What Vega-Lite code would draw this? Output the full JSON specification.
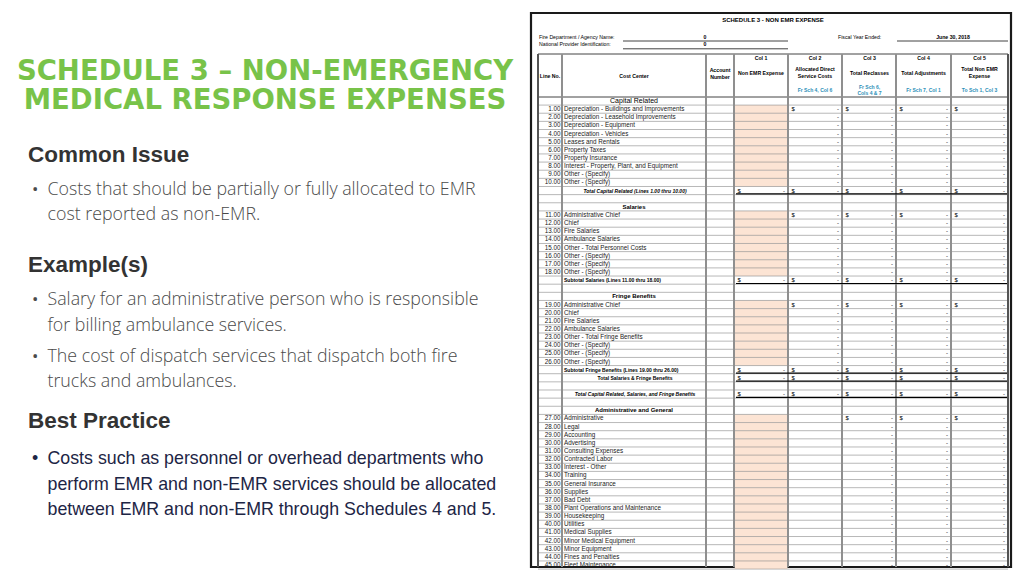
{
"$schema":"https://vega.github.io/schema/vega-lite/v6.json",
"width":1024,"height":576,"padding":0,
"autosize":{"type":"none"},
"background":"white",
"config":{"view":{"stroke":null},"axis":{"disable":true},"text":{"font":"Liberation Sans","color":"#000000"}},
"datasets":{"rows":[
{"r":0,"kind":"section","name":"Capital Related","sec":"cap"},
{"r":1,"kind":"item","line":"1.00","name":"Depreciation - Buildings and Improvements","sec":"cap","first":true},
{"r":2,"kind":"item","line":"2.00","name":"Depreciation - Leasehold Improvements","sec":"cap"},
{"r":3,"kind":"item","line":"3.00","name":"Depreciation - Equipment","sec":"cap"},
{"r":4,"kind":"item","line":"4.00","name":"Depreciation  - Vehicles","sec":"cap"},
{"r":5,"kind":"item","line":"5.00","name":"Leases and Rentals","sec":"cap"},
{"r":6,"kind":"item","line":"6.00","name":"Property Taxes","sec":"cap"},
{"r":7,"kind":"item","line":"7.00","name":"Property Insurance","sec":"cap"},
{"r":8,"kind":"item","line":"8.00","name":"Interest - Property, Plant, and Equipment","sec":"cap"},
{"r":9,"kind":"item","line":"9.00","name":"Other - (Specify)","sec":"cap"},
{"r":10,"kind":"item","line":"10.00","name":"Other - (Specify)","sec":"cap"},
{"r":11,"kind":"total","name":"Total Capital Related (Lines 1.00 thru 10.00)","sec":"cap"},
{"r":12,"kind":"blank"},
{"r":13,"kind":"section","name":"Salaries","sec":"sal"},
{"r":14,"kind":"item","line":"11.00","name":"Administrative Chief","sec":"sal","first":true},
{"r":15,"kind":"item","line":"12.00","name":"Chief","sec":"sal"},
{"r":16,"kind":"item","line":"13.00","name":"Fire Salaries","sec":"sal"},
{"r":17,"kind":"item","line":"14.00","name":"Ambulance Salaries","sec":"sal"},
{"r":18,"kind":"item","line":"15.00","name":"Other - Total Personnel Costs","sec":"sal"},
{"r":19,"kind":"item","line":"16.00","name":"Other - (Specify)","sec":"sal"},
{"r":20,"kind":"item","line":"17.00","name":"Other - (Specify)","sec":"sal"},
{"r":21,"kind":"item","line":"18.00","name":"Other - (Specify)","sec":"sal"},
{"r":22,"kind":"total","name":"Subtotal Salaries (Lines 11.00 thru 18.00)","sec":"sal"},
{"r":23,"kind":"blank"},
{"r":24,"kind":"section","name":"Fringe Benefits","sec":"fri"},
{"r":25,"kind":"item","line":"19.00","name":"Administrative Chief","sec":"fri","first":true},
{"r":26,"kind":"item","line":"20.00","name":"Chief","sec":"fri"},
{"r":27,"kind":"item","line":"21.00","name":"Fire Salaries","sec":"fri"},
{"r":28,"kind":"item","line":"22.00","name":"Ambulance Salaries","sec":"fri"},
{"r":29,"kind":"item","line":"23.00","name":"Other - Total Fringe Benefits","sec":"fri"},
{"r":30,"kind":"item","line":"24.00","name":"Other - (Specify)","sec":"fri"},
{"r":31,"kind":"item","line":"25.00","name":"Other - (Specify)","sec":"fri"},
{"r":32,"kind":"item","line":"26.00","name":"Other - (Specify)","sec":"fri"},
{"r":33,"kind":"total","name":"Subtotal Fringe Benefits (Lines 19.00 thru 26.00)","sec":"fri"},
{"r":34,"kind":"total","name":"Total Salaries & Fringe Benefits","sec":"fri"},
{"r":35,"kind":"blank"},
{"r":36,"kind":"total","name":"Total Capital Related, Salaries, and Fringe Benefits","sec":"all"},
{"r":37,"kind":"blank"},
{"r":38,"kind":"section","name":"Administrative and General","sec":"ag"},
{"r":39,"kind":"item","line":"27.00","name":"Administrative","sec":"ag","first":true},
{"r":40,"kind":"item","line":"28.00","name":"Legal","sec":"ag"},
{"r":41,"kind":"item","line":"29.00","name":"Accounting","sec":"ag"},
{"r":42,"kind":"item","line":"30.00","name":"Advertising","sec":"ag"},
{"r":43,"kind":"item","line":"31.00","name":"Consulting Expenses","sec":"ag"},
{"r":44,"kind":"item","line":"32.00","name":"Contracted Labor","sec":"ag"},
{"r":45,"kind":"item","line":"33.00","name":"Interest - Other","sec":"ag"},
{"r":46,"kind":"item","line":"34.00","name":"Training","sec":"ag"},
{"r":47,"kind":"item","line":"35.00","name":"General Insurance","sec":"ag"},
{"r":48,"kind":"item","line":"36.00","name":"Supplies","sec":"ag"},
{"r":49,"kind":"item","line":"37.00","name":"Bad Debt","sec":"ag"},
{"r":50,"kind":"item","line":"38.00","name":"Plant Operations and Maintenance","sec":"ag"},
{"r":51,"kind":"item","line":"39.00","name":"Housekeeping","sec":"ag"},
{"r":52,"kind":"item","line":"40.00","name":"Utilities","sec":"ag"},
{"r":53,"kind":"item","line":"41.00","name":"Medical Supplies","sec":"ag"},
{"r":54,"kind":"item","line":"42.00","name":"Minor Medical Equipment","sec":"ag"},
{"r":55,"kind":"item","line":"43.00","name":"Minor Equipment","sec":"ag"},
{"r":56,"kind":"item","line":"44.00","name":"Fines and Penalties","sec":"ag"},
{"r":57,"kind":"item","line":"45.00","name":"Fleet Maintenance","sec":"ag"}
]},
"layer":[
{
"data":{"values":[{}]},
"layer":[
{"mark":{"type":"rect","fill":"white","stroke":"#1a1a1a","strokeWidth":2.2},"encoding":{"x":{"datum":531,"type":"quantitative","scale":{"domain":[0,1024],"nice":false,"zero":false}},"x2":{"datum":1011},"y":{"datum":13,"type":"quantitative","scale":{"domain":[0,576],"nice":false,"zero":false,"reverse":true}},"y2":{"datum":567}}},
{"mark":{"type":"text","font":"DejaVu Sans","fontWeight":"bold","fontSize":27.5,"color":"#78c349","align":"center","baseline":"alphabetic","lineBreak":"\n","lineHeight":29.3},"encoding":{"x":{"datum":265},"y":{"datum":80},"text":{"value":"SCHEDULE 3 – NON-EMERGENCY\nMEDICAL RESPONSE EXPENSES"}}},
{"mark":{"type":"text","fontWeight":"bold","fontSize":22.5,"color":"#333333","align":"left","baseline":"alphabetic"},"encoding":{"x":{"datum":28},"y":{"datum":161.7},"text":{"value":"Common Issue"}}},
{"mark":{"type":"text","fontWeight":"bold","fontSize":22.5,"color":"#333333","align":"left","baseline":"alphabetic"},"encoding":{"x":{"datum":28},"y":{"datum":271.7},"text":{"value":"Example(s)"}}},
{"mark":{"type":"text","fontWeight":"bold","fontSize":22.5,"color":"#333333","align":"left","baseline":"alphabetic"},"encoding":{"x":{"datum":28},"y":{"datum":428.3},"text":{"value":"Best Practice"}}},
{"mark":{"type":"text","font":"Open Sans","fontWeight":300,"fontSize":17.8,"color":"#4a4a4a","align":"left","baseline":"alphabetic","lineBreak":"\n","lineHeight":25.2},"encoding":{"x":{"datum":47.5},"y":{"datum":195},"text":{"value":"Costs that should be partially or fully allocated to EMR\ncost reported as non-EMR."}}},
{"mark":{"type":"text","font":"Open Sans","fontWeight":300,"fontSize":17.8,"color":"#4a4a4a","align":"left","baseline":"alphabetic","lineBreak":"\n","lineHeight":25.7},"encoding":{"x":{"datum":47.5},"y":{"datum":305},"text":{"value":"Salary for an administrative person who is responsible\nfor billing ambulance services."}}},
{"mark":{"type":"text","font":"Open Sans","fontWeight":300,"fontSize":17.8,"color":"#4a4a4a","align":"left","baseline":"alphabetic","lineBreak":"\n","lineHeight":25},"encoding":{"x":{"datum":47.5},"y":{"datum":361.7},"text":{"value":"The cost of dispatch services that dispatch both fire\ntrucks and ambulances."}}},
{"mark":{"type":"text","font":"Open Sans","fontSize":17,"color":"#4a4a4a","align":"left","baseline":"alphabetic"},"encoding":{"x":{"datum":32},"y":{"datum":195},"text":{"value":"•"}}},
{"mark":{"type":"text","font":"Open Sans","fontSize":17,"color":"#4a4a4a","align":"left","baseline":"alphabetic"},"encoding":{"x":{"datum":32},"y":{"datum":305},"text":{"value":"•"}}},
{"mark":{"type":"text","font":"Open Sans","fontSize":17,"color":"#4a4a4a","align":"left","baseline":"alphabetic"},"encoding":{"x":{"datum":32},"y":{"datum":361.7},"text":{"value":"•"}}},
{"mark":{"type":"text","fontSize":17.8,"color":"#1d2545","align":"left","baseline":"alphabetic","lineBreak":"\n","lineHeight":25.5},"encoding":{"x":{"datum":47.5},"y":{"datum":464},"text":{"value":"Costs such as personnel or overhead departments who\nperform EMR and non-EMR services should be allocated\nbetween EMR and non-EMR through Schedules 4 and 5."}}},
{"mark":{"type":"text","fontSize":17.8,"color":"#1d2545","align":"left","baseline":"alphabetic"},"encoding":{"x":{"datum":32},"y":{"datum":464},"text":{"value":"•"}}},
{"mark":{"type":"text","fontWeight":"bold","fontSize":6,"align":"center","baseline":"alphabetic"},"encoding":{"x":{"datum":773},"y":{"datum":21.5},"text":{"value":"SCHEDULE 3 -  NON EMR EXPENSE"}}},
{"mark":{"type":"text","fontSize":5.2,"align":"left","baseline":"alphabetic","lineBreak":"\n","lineHeight":7.6},"encoding":{"x":{"datum":539},"y":{"datum":38.8},"text":{"value":"Fire Department / Agency Name:\nNational Provider Identification:"}}},
{"mark":{"type":"text","fontWeight":"bold","fontSize":5.2,"align":"center","baseline":"alphabetic","lineBreak":"\n","lineHeight":7.6},"encoding":{"x":{"datum":705},"y":{"datum":38.8},"text":{"value":"0\n0"}}},
{"mark":{"type":"text","fontSize":5.2,"align":"left","baseline":"alphabetic"},"encoding":{"x":{"datum":838},"y":{"datum":38.8},"text":{"value":"Fiscal Year Ended:"}}},
{"mark":{"type":"text","fontWeight":"bold","fontSize":5.2,"align":"center","baseline":"alphabetic"},"encoding":{"x":{"datum":953},"y":{"datum":38.8},"text":{"value":"June 30, 2018"}}},
{"mark":{"type":"rule","stroke":"#111111","strokeWidth":0.8},"encoding":{"x":{"datum":623},"x2":{"datum":788},"y":{"datum":41}}},
{"mark":{"type":"rule","stroke":"#111111","strokeWidth":0.8},"encoding":{"x":{"datum":623},"x2":{"datum":788},"y":{"datum":48.8}}},
{"mark":{"type":"rule","stroke":"#111111","strokeWidth":0.8},"encoding":{"x":{"datum":897},"x2":{"datum":1008},"y":{"datum":41}}},
{"mark":{"type":"rule","stroke":"#444444","strokeWidth":1},"encoding":{"x":{"datum":538},"x2":{"datum":1008},"y":{"datum":54}}},
{"mark":{"type":"rule","stroke":"#444444","strokeWidth":1},"encoding":{"x":{"datum":538},"x2":{"datum":1008},"y":{"datum":97}}},
{"mark":{"type":"text","fontWeight":"bold","fontSize":5.2,"align":"center","baseline":"alphabetic"},"encoding":{"x":{"datum":550},"y":{"datum":78.3},"text":{"value":"Line No."}}},
{"mark":{"type":"text","fontWeight":"bold","fontSize":5.2,"align":"center","baseline":"alphabetic"},"encoding":{"x":{"datum":634},"y":{"datum":78.3},"text":{"value":"Cost Center"}}},
{"mark":{"type":"text","fontWeight":"bold","fontSize":5.2,"align":"center","baseline":"alphabetic","lineBreak":"\n","lineHeight":7},"encoding":{"x":{"datum":720},"y":{"datum":71.8},"text":{"value":"Account\nNumber"}}},
{"mark":{"type":"text","fontWeight":"bold","fontSize":5.2,"align":"center","baseline":"alphabetic"},"encoding":{"x":{"datum":761},"y":{"datum":60.3},"text":{"value":"Col 1"}}},
{"mark":{"type":"text","fontWeight":"bold","fontSize":5.2,"align":"center","baseline":"alphabetic"},"encoding":{"x":{"datum":815},"y":{"datum":60.3},"text":{"value":"Col 2"}}},
{"mark":{"type":"text","fontWeight":"bold","fontSize":5.2,"align":"center","baseline":"alphabetic"},"encoding":{"x":{"datum":869.5},"y":{"datum":60.3},"text":{"value":"Col 3"}}},
{"mark":{"type":"text","fontWeight":"bold","fontSize":5.2,"align":"center","baseline":"alphabetic"},"encoding":{"x":{"datum":923.5},"y":{"datum":60.3},"text":{"value":"Col 4"}}},
{"mark":{"type":"text","fontWeight":"bold","fontSize":5.2,"align":"center","baseline":"alphabetic"},"encoding":{"x":{"datum":979.5},"y":{"datum":60.3},"text":{"value":"Col 5"}}},
{"mark":{"type":"text","fontWeight":"bold","fontSize":5.2,"align":"center","baseline":"alphabetic"},"encoding":{"x":{"datum":761},"y":{"datum":74.8},"text":{"value":"Non EMR Expense"}}},
{"mark":{"type":"text","fontWeight":"bold","fontSize":5.2,"align":"center","baseline":"alphabetic","lineBreak":"\n","lineHeight":7},"encoding":{"x":{"datum":815},"y":{"datum":71.3},"text":{"value":"Allocated Direct\nService Costs"}}},
{"mark":{"type":"text","fontWeight":"bold","fontSize":5.2,"align":"center","baseline":"alphabetic"},"encoding":{"x":{"datum":869.5},"y":{"datum":74.8},"text":{"value":"Total Reclasses"}}},
{"mark":{"type":"text","fontWeight":"bold","fontSize":5.2,"align":"center","baseline":"alphabetic"},"encoding":{"x":{"datum":923.5},"y":{"datum":74.8},"text":{"value":"Total Adjustments"}}},
{"mark":{"type":"text","fontWeight":"bold","fontSize":5.2,"align":"center","baseline":"alphabetic","lineBreak":"\n","lineHeight":7},"encoding":{"x":{"datum":979.5},"y":{"datum":71.3},"text":{"value":"Total Non EMR\nExpense"}}},
{"mark":{"type":"text","fontWeight":"bold","fontSize":5,"color":"#2b8fb8","align":"center","baseline":"alphabetic"},"encoding":{"x":{"datum":815},"y":{"datum":92.3},"text":{"value":"Fr Sch 4, Col 6"}}},
{"mark":{"type":"text","fontWeight":"bold","fontSize":5,"color":"#2b8fb8","align":"center","baseline":"alphabetic","lineBreak":"\n","lineHeight":6.6},"encoding":{"x":{"datum":869.5},"y":{"datum":88.8},"text":{"value":"Fr Sch 6,\nCols 4 & 7"}}},
{"mark":{"type":"text","fontWeight":"bold","fontSize":5,"color":"#2b8fb8","align":"center","baseline":"alphabetic"},"encoding":{"x":{"datum":923.5},"y":{"datum":92.3},"text":{"value":"Fr Sch 7, Col 1"}}},
{"mark":{"type":"text","fontWeight":"bold","fontSize":5,"color":"#2b8fb8","align":"center","baseline":"alphabetic"},"encoding":{"x":{"datum":979.5},"y":{"datum":92.3},"text":{"value":"To Sch 1, Col 3"}}}
]
},
{
"data":{"name":"rows"},
"layer":[
{"transform":[{"filter":"datum.kind == 'item'"}],"mark":{"type":"rule","stroke":"#fce4d4","strokeWidth":8.2},"encoding":{"x":{"datum":734.5},"x2":{"datum":787.5},"y":{"field":"r","type":"quantitative","scale":{"domain":[-12.41,58.35],"reverse":true,"nice":false,"zero":false}}}},
{"mark":{"type":"rule","stroke":"#888888","strokeWidth":0.6,"yOffset":4.07},"encoding":{"x":{"datum":538},"x2":{"datum":1008},"y":{"field":"r","type":"quantitative"}}},
{"mark":{"type":"rule","stroke":"#555555","strokeWidth":1},"encoding":{"x":{"datum":538},"y":{"datum":-5.77},"y2":{"datum":57.25}}},
{"mark":{"type":"rule","stroke":"#909090","strokeWidth":0.7},"encoding":{"x":{"datum":562},"y":{"datum":-5.77},"y2":{"datum":57.25}}},
{"mark":{"type":"rule","stroke":"#909090","strokeWidth":0.7},"encoding":{"x":{"datum":706},"y":{"datum":-5.77},"y2":{"datum":57.25}}},
{"mark":{"type":"rule","stroke":"#909090","strokeWidth":0.7},"encoding":{"x":{"datum":734},"y":{"datum":-5.77},"y2":{"datum":57.25}}},
{"mark":{"type":"rule","stroke":"#909090","strokeWidth":0.7},"encoding":{"x":{"datum":788},"y":{"datum":-5.77},"y2":{"datum":57.25}}},
{"mark":{"type":"rule","stroke":"#909090","strokeWidth":0.7},"encoding":{"x":{"datum":842},"y":{"datum":-5.77},"y2":{"datum":57.25}}},
{"mark":{"type":"rule","stroke":"#909090","strokeWidth":0.7},"encoding":{"x":{"datum":896},"y":{"datum":-5.77},"y2":{"datum":57.25}}},
{"mark":{"type":"rule","stroke":"#909090","strokeWidth":0.7},"encoding":{"x":{"datum":951},"y":{"datum":-5.77},"y2":{"datum":57.25}}},
{"mark":{"type":"rule","stroke":"#555555","strokeWidth":1},"encoding":{"x":{"datum":1008},"y":{"datum":-5.77},"y2":{"datum":57.25}}},
{"transform":[{"filter":"datum.kind == 'item'"}],"mark":{"type":"text","fontSize":6.3,"align":"right","baseline":"middle","color":"#1a1a1a"},"encoding":{"x":{"datum":560.5},"y":{"field":"r","type":"quantitative"},"text":{"field":"line"}}},
{"transform":[{"filter":"datum.kind == 'item'"}],"mark":{"type":"text","fontSize":6.3,"align":"left","baseline":"middle","color":"#1a1a1a"},"encoding":{"x":{"datum":564},"y":{"field":"r","type":"quantitative"},"text":{"field":"name"}}},
{"transform":[{"filter":"datum.kind == 'section' && datum.name != 'Capital Related'"}],"mark":{"type":"text","fontSize":6,"fontWeight":"bold","align":"center","baseline":"middle"},"encoding":{"x":{"datum":634},"y":{"field":"r","type":"quantitative"},"text":{"field":"name"}}},
{"transform":[{"filter":"datum.name == 'Capital Related'"}],"mark":{"type":"text","fontSize":7,"align":"center","baseline":"middle"},"encoding":{"x":{"datum":634},"y":{"field":"r","type":"quantitative"},"text":{"field":"name"}}},
{"transform":[{"filter":"datum.kind == 'total' && indexof(datum.name, 'Subtotal') == 0"}],"mark":{"type":"text","fontSize":5,"fontWeight":"bold","align":"left","baseline":"middle"},"encoding":{"x":{"datum":564},"y":{"field":"r","type":"quantitative"},"text":{"field":"name"}}},
{"transform":[{"filter":"datum.name == 'Total Salaries & Fringe Benefits'"}],"mark":{"type":"text","fontSize":5,"fontWeight":"bold","align":"center","baseline":"middle"},"encoding":{"x":{"datum":635},"y":{"field":"r","type":"quantitative"},"text":{"field":"name"}}},
{"transform":[{"filter":"datum.kind == 'total' && indexof(datum.name, 'Subtotal') != 0 && datum.name != 'Total Salaries & Fringe Benefits'"}],"mark":{"type":"text","fontSize":5,"fontWeight":"bold","fontStyle":"italic","align":"center","baseline":"middle"},"encoding":{"x":{"datum":635},"y":{"field":"r","type":"quantitative"},"text":{"field":"name"}}},
{"transform":[{"filter":"datum.kind == 'total'"}],"mark":{"type":"rule","stroke":"#000000","strokeWidth":1.2,"yOffset":3.4},"encoding":{"x":{"datum":736},"x2":{"datum":1007},"y":{"field":"r","type":"quantitative"}}},
{"transform":[{"filter":"datum.kind == 'total'"}],"mark":{"type":"text","fontSize":6,"align":"right","baseline":"middle"},"encoding":{"x":{"datum":785},"y":{"field":"r","type":"quantitative"},"text":{"value":"-"}}},
{"transform":[{"filter":"datum.kind == 'total' || (datum.kind == 'item' && datum.sec != 'ag')"}],"mark":{"type":"text","fontSize":6,"align":"right","baseline":"middle"},"encoding":{"x":{"datum":839},"y":{"field":"r","type":"quantitative"},"text":{"value":"-"}}},
{"transform":[{"filter":"datum.kind == 'total' || datum.kind == 'item'"}],"mark":{"type":"text","fontSize":6,"align":"right","baseline":"middle"},"encoding":{"x":{"datum":893},"y":{"field":"r","type":"quantitative"},"text":{"value":"-"}}},
{"transform":[{"filter":"datum.kind == 'total' || datum.kind == 'item'"}],"mark":{"type":"text","fontSize":6,"align":"right","baseline":"middle"},"encoding":{"x":{"datum":948},"y":{"field":"r","type":"quantitative"},"text":{"value":"-"}}},
{"transform":[{"filter":"datum.kind == 'total' || datum.kind == 'item'"}],"mark":{"type":"text","fontSize":6,"align":"right","baseline":"middle"},"encoding":{"x":{"datum":1005},"y":{"field":"r","type":"quantitative"},"text":{"value":"-"}}},
{"transform":[{"filter":"datum.kind == 'total'"}],"mark":{"type":"text","fontSize":6,"align":"left","baseline":"middle"},"encoding":{"x":{"datum":737.5},"y":{"field":"r","type":"quantitative"},"text":{"value":"$"}}},
{"transform":[{"filter":"datum.kind == 'total' || (datum.first == true && datum.sec != 'ag')"}],"mark":{"type":"text","fontSize":6,"align":"left","baseline":"middle"},"encoding":{"x":{"datum":791.5},"y":{"field":"r","type":"quantitative"},"text":{"value":"$"}}},
{"transform":[{"filter":"datum.kind == 'total' || datum.first == true"}],"mark":{"type":"text","fontSize":6,"align":"left","baseline":"middle"},"encoding":{"x":{"datum":845.5},"y":{"field":"r","type":"quantitative"},"text":{"value":"$"}}},
{"transform":[{"filter":"datum.kind == 'total' || datum.first == true"}],"mark":{"type":"text","fontSize":6,"align":"left","baseline":"middle"},"encoding":{"x":{"datum":899.5},"y":{"field":"r","type":"quantitative"},"text":{"value":"$"}}},
{"transform":[{"filter":"datum.kind == 'total' || datum.first == true"}],"mark":{"type":"text","fontSize":6,"align":"left","baseline":"middle"},"encoding":{"x":{"datum":954.5},"y":{"field":"r","type":"quantitative"},"text":{"value":"$"}}}
]
}
],
"resolve":{"scale":{"y":"independent"}}
}
